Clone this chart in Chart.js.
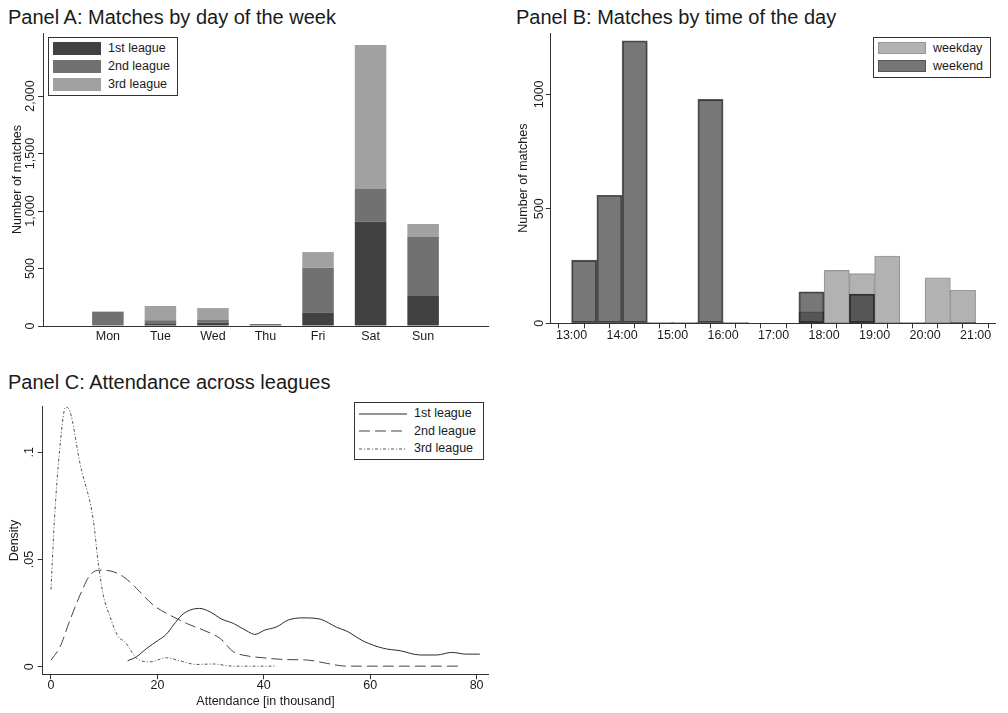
<!DOCTYPE html>
<html>
<head>
<meta charset="utf-8">
<script src="https://cdn.jsdelivr.net/npm/chart.js@4"></script>
<style>
  html, body { margin: 0; padding: 0; background: #fff; }
  body { width: 1008px; height: 713px; position: relative; overflow: hidden;
         font-family: "Liberation Sans", Arial, sans-serif; color: #1a1a1a; }
  .panel { position: absolute; }
  .title { position: absolute; font-size: 20px; line-height: 20px; white-space: nowrap; }
  .legend { position: absolute; border: 1px solid #333; box-sizing: border-box; background: #fff; }
  .key { position: absolute; box-sizing: border-box; }
  .lab { position: absolute; font-size: 12.5px; line-height: 12.5px; white-space: nowrap; }
</style>
</head>
<body>
<div class="title" style="left:8px;top:7px">Panel A: Matches by day of the week</div>
<div class="title" style="left:516px;top:7px">Panel B: Matches by time of the day</div>
<div class="title" style="left:8px;top:371.5px">Panel C: Attendance across leagues</div>

<canvas id="chartA" class="panel" width="500" height="345" style="left:0;top:0"></canvas>
<canvas id="chartB" class="panel" width="508" height="345" style="left:500px;top:0"></canvas>
<canvas id="chartC" class="panel" width="500" height="368" style="left:0;top:345px"></canvas>

<script>
// ---- Panel A: matches per weekday, stacked by league ----
const days = ['Mon', 'Tue', 'Wed', 'Thu', 'Fri', 'Sat', 'Sun'];
const league1Matches = [0, 17, 29, 0, 116, 907, 261];
const league2Matches = [125, 32, 23, 17, 391, 284, 513];
const league3Matches = [0, 125, 104, 0, 136, 1252, 113];
const leagueNames = ['1st league', '2nd league', '3rd league'];
const countTicksA = [0, 500, 1000, 1500, 2000];
const countLabelsA = ['0', '500', '1,000', '1,500', '2,000'];

// ---- Panel B: kick-off times in half-hour bins (bin start, in hours) ----
const binStarts = [13, 13.5, 14, 14.5, 15, 15.5, 16, 16.5, 17, 17.5, 18, 18.5, 19, 19.5, 20, 20.5];
const weekdayMatches = [0, 0, 0, 0, 0, 0, 0, 0, 0, 50, 231, 217, 294, 0, 199, 144];
const weekendMatches = [276, 559, 1234, 3, 3, 978, 3, 0, 0, 138, 0, 128, 0, 3, 0, 3];
const dayTypeNames = ['weekday', 'weekend'];
const hourTicks = [13, 14, 15, 16, 17, 18, 19, 20, 21];
const hourLabels = ['13:00', '14:00', '15:00', '16:00', '17:00', '18:00', '19:00', '20:00', '21:00'];
const countTicksB = [0, 500, 1000];
const countLabelsB = ['0', '500', '1000'];

// ---- Panel C: attendance densities (thousands of spectators) ----
const attendance1 = [14.4, 16.1, 18, 20.2, 21.7, 23, 24.6, 26.1, 27.9, 29.9, 32.1, 34.3, 37.1, 38.3, 40.2, 42.4, 44.6, 47.4, 50.6, 53.7, 55.6, 58.7, 62.5, 65.6, 69.4, 72.5, 75.3, 78.1, 80.6];
const density1 = [0.0028, 0.0047, 0.0086, 0.0124, 0.0152, 0.0194, 0.0241, 0.0264, 0.0272, 0.0256, 0.0222, 0.0202, 0.0163, 0.0151, 0.0171, 0.0186, 0.0218, 0.0228, 0.0222, 0.0184, 0.0166, 0.012, 0.0086, 0.0075, 0.0055, 0.0055, 0.0067, 0.0059, 0.0059];
const attendance2 = [0, 1.7, 3.57, 5.45, 7.33, 9.1, 11.1, 13.6, 16.1, 19.2, 22.4, 25.5, 28.6, 31.8, 34.3, 37.1, 39.9, 43.7, 48.4, 51.8, 55.6, 60, 65, 70, 77];
const density2 = [0.0031, 0.0093, 0.0218, 0.0334, 0.0427, 0.045, 0.0447, 0.042, 0.0365, 0.0288, 0.024, 0.0202, 0.0171, 0.0132, 0.007, 0.005, 0.0042, 0.0034, 0.0031, 0.0016, 0.0003, 0.0003, 0.0003, 0.0003, 0.0003];
const attendance3 = [0, 0.63, 1.57, 2.75, 3.57, 5.45, 7.95, 8.9, 9.83, 11.1, 12.65, 13.9, 16.1, 18.6, 21.7, 24.2, 27.4, 30.5, 34.2, 37.4, 42.4];
const density3 = [0.036, 0.068, 0.0994, 0.121, 0.119, 0.0948, 0.0684, 0.048, 0.0334, 0.0233, 0.014, 0.0117, 0.0039, 0.0023, 0.0042, 0.0028, 0.0011, 0.0013, 0.0003, 0.0003, 0.0003];
const attendanceTicks = [0, 20, 40, 60, 80];
const densityTicks = [0, 0.05, 0.1];
const densityLabels = ['0', '.05', '.1'];

const FONT = '"Liberation Sans", Arial, sans-serif';
const INK = '#1a1a1a';
const AXIS = '#333';

Chart.defaults.font.family = FONT;
Chart.defaults.font.size = 12.5;
Chart.defaults.color = INK;

// Vertical tick labels and axis titles drawn beside the chart area
const sideLabels = {
  id: 'sideLabels',
  afterDraw(chart, args, o) {
    const { ctx, chartArea: a } = chart;
    const ys = chart.scales.y;
    ctx.save();
    ctx.fillStyle = INK;
    ctx.font = '12.5px ' + FONT;
    ctx.textAlign = 'center';
    ctx.textBaseline = 'alphabetic';
    o.values.forEach((v, i) => {
      ctx.save();
      ctx.translate(a.left - o.tickGap, ys.getPixelForValue(v));
      ctx.rotate(-Math.PI / 2);
      ctx.fillText(o.labels[i], 0, 0);
      ctx.restore();
    });
    ctx.save();
    ctx.translate(a.left - o.titleGap, (a.top + a.bottom) / 2);
    ctx.rotate(-Math.PI / 2);
    ctx.fillText(o.title, 0, 0);
    ctx.restore();
    if (o.xTitle) {
      ctx.fillText(o.xTitle, (a.left + a.right) / 2, a.bottom + o.xTitleGap);
    }
    ctx.restore();
  }
};

function yAxis(min, max, values) {
  return {
    type: 'linear', min, max,
    afterFit: s => { s.width = 0; },
    afterBuildTicks: s => { s.ticks = values.map(v => ({ value: v })); },
    ticks: { display: false },
    grid: { drawOnChartArea: false, drawTicks: true, tickLength: 5, color: AXIS, lineWidth: 1 },
    border: { color: AXIS, width: 1 }
  };
}

// x axis band below the chart area has a fixed height so the plot area lands exactly
function xBand(height) {
  return s => { s.height = height; };
}

// ---------- Panel A ----------
const leagueColors = ['#414141', '#717171', '#a1a1a1'];
new Chart(document.getElementById('chartA'), {
  type: 'bar',
  data: {
    datasets: [league1Matches, league2Matches, league3Matches].map((vals, k) => ({
      label: leagueNames[k],
      data: vals.map((v, i) => ({ x: i, y: v })),
      backgroundColor: leagueColors[k],
      borderWidth: 0,
      barPercentage: 0.6,
      categoryPercentage: 1
    }))
  },
  options: {
    responsive: false, animation: false,
    layout: { autoPadding: false, padding: { left: 43, top: 33, right: 12, bottom: 0 } },
    plugins: {
      legend: { display: false }, tooltip: { enabled: false },
      sideLabels: { values: countTicksA, labels: countLabelsA, tickGap: 9.5, title: 'Number of matches', titleGap: 22.5 }
    },
    scales: {
      x: {
        type: 'linear', min: -0.63, max: 6.63, stacked: true,
        afterFit: xBand(19),
        afterBuildTicks: s => { s.ticks = days.map((d, i) => ({ value: i })); },
        ticks: { autoSkip: false, maxRotation: 0, padding: 3.5, callback: v => days[v] },
        grid: { drawOnChartArea: false, drawTicks: false },
        border: { color: AXIS, width: 1 }
      },
      y: Object.assign(yAxis(0, 2548, countTicksA), { stacked: true })
    }
  },
  plugins: [sideLabels]
});

// ---------- Panel B ----------
new Chart(document.getElementById('chartB'), {
  type: 'bar',
  data: {
    datasets: [
      {
        label: dayTypeNames[0],
        data: binStarts.map((b, i) => ({ x: b + 0.25, y: weekdayMatches[i] })),
        backgroundColor: '#b2b2b2', borderColor: '#979797', borderWidth: 1.2,
        borderSkipped: false, grouped: false, barPercentage: 1, categoryPercentage: 1, order: 2
      },
      {
        label: dayTypeNames[1],
        data: binStarts.map((b, i) => ({ x: b + 0.25, y: weekendMatches[i] })),
        backgroundColor: 'rgba(16,16,16,0.57)', borderColor: 'rgba(0,0,0,0.66)', borderWidth: 1.2,
        borderSkipped: false, grouped: false, barPercentage: 1, categoryPercentage: 1, order: 1
      }
    ]
  },
  options: {
    responsive: false, animation: false,
    layout: { autoPadding: false, padding: { left: 50.7, top: 33, right: 13, bottom: 0 } },
    plugins: {
      legend: { display: false }, tooltip: { enabled: false },
      sideLabels: { values: countTicksB, labels: countLabelsB, tickGap: 8, title: 'Number of matches', titleGap: 24 }
    },
    scales: {
      x: {
        type: 'linear', min: 12.845, max: 21.125,
        afterFit: xBand(21.7),
        afterBuildTicks: s => {
          const t = [];
          hourTicks.forEach((h, i) => { t.push({ value: h }); if (i < hourTicks.length - 1) t.push({ value: h + 0.5 }); });
          s.ticks = t;
        },
        ticks: { autoSkip: false, maxRotation: 0, padding: 0,
                 callback: v => { const i = hourTicks.indexOf(v); return i >= 0 ? hourLabels[i] : ''; } },
        grid: { drawOnChartArea: false, drawTicks: true, tickLength: 5, color: AXIS, lineWidth: 1 },
        border: { color: AXIS, width: 1 }
      },
      y: yAxis(0, 1268, countTicksB)
    }
  },
  plugins: [sideLabels]
});

// ---------- Panel C ----------
const lineStyles = [
  { color: '#2b2b2b', dash: [] },
  { color: '#444', dash: [11, 5] },
  { color: '#555', dash: [3, 2, 1, 2] }
];
const densitySeries = [[attendance1, density1], [attendance2, density2], [attendance3, density3]];
new Chart(document.getElementById('chartC'), {
  type: 'line',
  data: {
    datasets: densitySeries.map(([xs, ds], k) => ({
      label: leagueNames[k],
      data: xs.map((x, i) => ({ x, y: ds[i] })),
      borderColor: lineStyles[k].color,
      borderDash: lineStyles[k].dash,
      borderWidth: 1,
      pointRadius: 0,
      fill: false,
      cubicInterpolationMode: 'monotone'
    }))
  },
  options: {
    responsive: false, animation: false,
    layout: { autoPadding: false, padding: { left: 42.7, top: 61.7, right: 11.7, bottom: 0 } },
    plugins: {
      legend: { display: false }, tooltip: { enabled: false },
      sideLabels: { values: densityTicks, labels: densityLabels, tickGap: 9.5, title: 'Density', titleGap: 24.4,
                    xTitle: 'Attendance [in thousand]', xTitleGap: 30.2 }
    },
    scales: {
      x: {
        type: 'linear', min: -1.56, max: 82.2,
        afterFit: xBand(38.7),
        afterBuildTicks: s => { s.ticks = attendanceTicks.map(v => ({ value: v })); },
        ticks: { autoSkip: false, maxRotation: 0, padding: -1, callback: v => String(v) },
        grid: { drawOnChartArea: false, drawTicks: true, tickLength: 5, color: AXIS, lineWidth: 1 },
        border: { color: AXIS, width: 1 }
      },
      y: yAxis(-0.0035, 0.1212, densityTicks)
    }
  },
  plugins: [sideLabels]
});

// ---------- Legends ----------
function addLegend(box, rows) {
  const lg = document.createElement('div');
  lg.className = 'legend';
  Object.assign(lg.style, { left: box.left + 'px', top: box.top + 'px', width: box.width + 'px', height: box.height + 'px' });
  document.body.appendChild(lg);
  rows.forEach(r => {
    if (r.fill) {
      const k = document.createElement('div');
      k.className = 'key';
      Object.assign(k.style, {
        left: r.keyX + 'px', top: (r.y - r.keyH / 2) + 'px', width: r.keyW + 'px', height: r.keyH + 'px',
        background: r.fill, border: r.border ? ('1px solid ' + r.border) : 'none'
      });
      document.body.appendChild(k);
    } else {
      const ns = 'http://www.w3.org/2000/svg';
      const svg = document.createElementNS(ns, 'svg');
      svg.setAttribute('width', r.keyW); svg.setAttribute('height', 4);
      svg.style.position = 'absolute';
      svg.style.left = r.keyX + 'px'; svg.style.top = (r.y - 2) + 'px';
      const ln = document.createElementNS(ns, 'line');
      ln.setAttribute('x1', 0); ln.setAttribute('x2', r.keyW);
      ln.setAttribute('y1', 2); ln.setAttribute('y2', 2);
      ln.setAttribute('stroke', r.line);
      ln.setAttribute('stroke-width', 1);
      if (r.dash.length) ln.setAttribute('stroke-dasharray', r.dash.join(' '));
      svg.appendChild(ln);
      document.body.appendChild(svg);
    }
    const t = document.createElement('div');
    t.className = 'lab';
    t.textContent = r.label;
    t.style.left = r.textX + 'px';
    t.style.top = (r.y - 6.25) + 'px';
    document.body.appendChild(t);
  });
}

addLegend({ left: 48, top: 37, width: 130, height: 59 },
  leagueNames.map((n, k) => ({ label: n, y: [48, 66, 84][k], keyX: 53, keyW: 48, keyH: 13, textX: 108, fill: leagueColors[k] })));

addLegend({ left: 873, top: 37, width: 118, height: 41 }, [
  { label: dayTypeNames[0], y: 48.3, keyX: 878, keyW: 48, keyH: 12, textX: 933, fill: '#b2b2b2', border: '#979797' },
  { label: dayTypeNames[1], y: 66, keyX: 878, keyW: 48, keyH: 12, textX: 933, fill: '#777', border: '#555' }
]);

addLegend({ left: 354, top: 402, width: 130, height: 58 },
  leagueNames.map((n, k) => ({ label: n, y: [413.7, 431.3, 448.7][k], keyX: 359, keyW: 48, textX: 414,
                               line: lineStyles[k].color, dash: lineStyles[k].dash })));
</script>
</body>
</html>
